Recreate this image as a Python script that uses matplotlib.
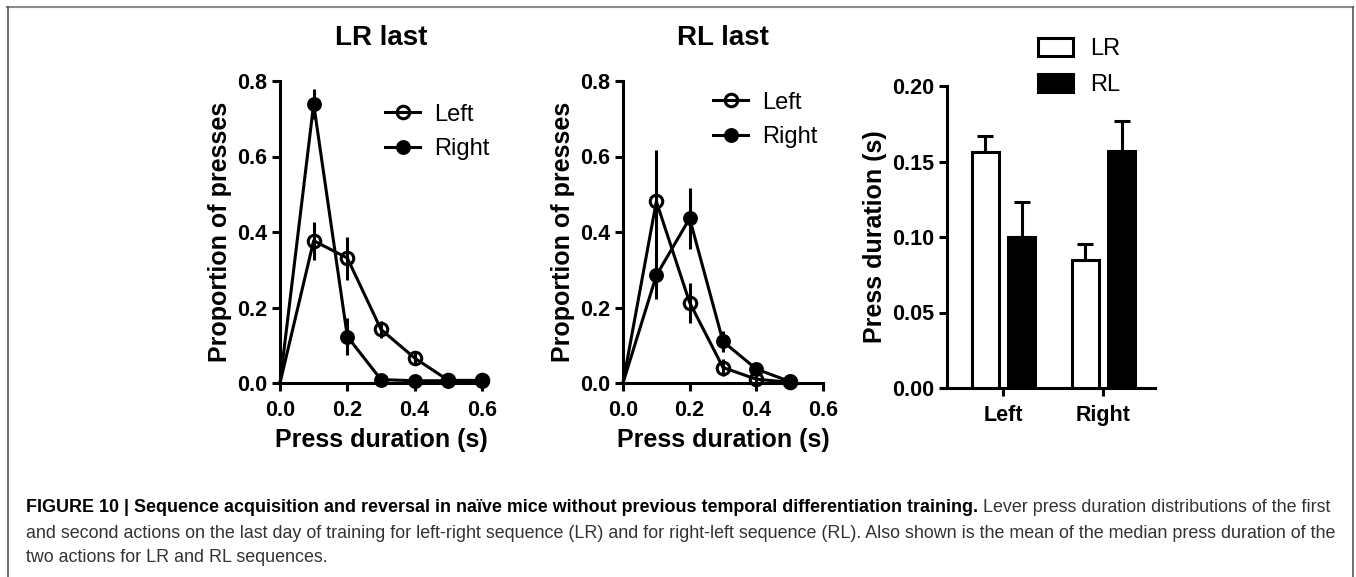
import matplotlib
matplotlib.use("Agg")
import matplotlib.pyplot as plt
from matplotlib import font_manager
from matplotlib.lines import Line2D
from matplotlib.ticker import FormatStrFormatter
import numpy as np

# data
durations = [0.0, 0.1, 0.2, 0.3, 0.4, 0.5, 0.6]

lr_left = [0.0, 0.377, 0.331, 0.142, 0.066, 0.007, 0.007]
lr_left_err = [0.0, 0.05, 0.057, 0.022, 0.018, 0.004, 0.004]
lr_right = [0.0, 0.739, 0.123, 0.009, 0.006, 0.006, 0.006]
lr_right_err = [0.0, 0.039, 0.048, 0.004, 0.003, 0.003, 0.003]

rl_durations = [0.0, 0.1, 0.2, 0.3, 0.4, 0.5]
rl_left = [0.0, 0.481, 0.213, 0.041, 0.01, 0.002]
rl_left_err = [0.0, 0.137, 0.053, 0.022, 0.008, 0.003]
rl_right = [0.0, 0.285, 0.436, 0.11, 0.037, 0.004]
rl_right_err = [0.0, 0.062, 0.081, 0.028, 0.01, 0.003]

bar_groups = ["Left", "Right"]
bar_lr = [0.1566, 0.0845]
bar_lr_err = [0.010, 0.011]
bar_rl = [0.0999, 0.157]
bar_rl_err = [0.023, 0.020]

caption_bold = ("FIGURE 10 | Sequence acquisition and reversal in na\u00efve mice without "
                "previous temporal differentiation training.")
caption_rest1 = " Lever press duration distributions of the first"
caption_line2 = ("and second actions on the last day of training for left-right sequence (LR) "
                 "and for right-left sequence (RL). Also shown is the mean of the median press duration of the")
caption_line3 = "two actions for LR and RL sequences."

plt.rcParams['font.family'] = ['Liberation Sans', 'DejaVu Sans']
plt.rcParams['font.weight'] = 'bold'

LW = 2.2
W, H = 1356, 577
fig = plt.figure(figsize=(W / 100, H / 100), dpi=100)


def axes_px(x0, x1, ytop, ybot):
    return fig.add_axes([x0 / W, 1 - ybot / H, (x1 - x0) / W, (ybot - ytop) / H])


def style(ax):
    for s in ["top", "right"]:
        ax.spines[s].set_visible(False)
    for s in ["left", "bottom"]:
        ax.spines[s].set_linewidth(LW)
    ax.tick_params(width=LW, length=6, labelsize=15.5, pad=3)
    ax.tick_params(axis="x", pad=6)
    for lab in ax.get_xticklabels() + ax.get_yticklabels():
        lab.set_fontweight("bold")


def dist_panel(ax, x, left, left_err, right, right_err, title, leg_anchor):
    ax.errorbar(x[1:], left[1:], yerr=left_err[1:], fmt="none", ecolor="black",
                elinewidth=LW, clip_on=False, zorder=2)
    ax.errorbar(x[1:], right[1:], yerr=right_err[1:], fmt="none", ecolor="black",
                elinewidth=LW, clip_on=False, zorder=2)
    ax.plot(x, left, color="black", lw=LW, marker="o", ms=9, mfc="none", mec="black",
            mew=LW, markevery=slice(1, None), clip_on=False, zorder=3, label="Left")
    ax.plot(x, right, color="black", lw=LW, marker="o", ms=8.5, mfc="black", mec="black",
            mew=LW, markevery=slice(1, None), clip_on=False, zorder=3, label="Right")
    ax.set_xlim(0, 0.6)
    ax.set_ylim(0, 0.8)
    ax.set_xticks([0, 0.2, 0.4, 0.6])
    ax.set_yticks([0, 0.2, 0.4, 0.6, 0.8])
    ax.xaxis.set_major_formatter(FormatStrFormatter("%.1f"))
    ax.yaxis.set_major_formatter(FormatStrFormatter("%.1f"))
    ax.set_xlabel("Press duration (s)", fontsize=18, fontweight="bold", labelpad=5)
    ax.set_ylabel("Proportion of presses", fontsize=18, fontweight="bold", labelpad=4)
    ax.set_title(title, fontsize=20, fontweight="bold", pad=26)
    style(ax)
    leg = ax.legend(loc="upper left", bbox_to_anchor=leg_anchor, frameon=False,
                    prop={"size": 17, "weight": "normal"}, handlelength=1.5,
                    handletextpad=0.6, labelspacing=0.52, borderpad=0, borderaxespad=0,
                    numpoints=1)
    return leg


ax1 = axes_px(280, 482, 81, 383)
dist_panel(ax1, durations, lr_left, lr_left_err, lr_right, lr_right_err, "LR last", (0.52, 0.925))

ax2 = axes_px(623, 823, 81, 383)
dist_panel(ax2, rl_durations, rl_left, rl_left_err, rl_right, rl_right_err, "RL last", (0.45, 0.965))

# bar panel
ax3 = axes_px(947, 1155, 86, 388)
xpos = np.arange(len(bar_groups))
bw = 0.27
ax3.bar(xpos - 0.18, bar_lr, bw, color="white", edgecolor="black", linewidth=LW,
        label="LR", zorder=3)
ax3.bar(xpos + 0.185, bar_rl, bw, color="black", edgecolor="black", linewidth=LW,
        label="RL", zorder=3)
ax3.errorbar(xpos - 0.18, bar_lr, yerr=[np.zeros(2), bar_lr_err], fmt="none", ecolor="black",
             elinewidth=LW, capsize=5.5, capthick=LW, zorder=2)
ax3.errorbar(xpos + 0.185, bar_rl, yerr=[np.zeros(2), bar_rl_err], fmt="none", ecolor="black",
             elinewidth=LW, capsize=5.5, capthick=LW, zorder=2)
ax3.set_xlim(-0.56, 1.52)
ax3.set_ylim(0, 0.2)
ax3.set_xticks(xpos)
ax3.set_xticklabels(bar_groups)
ax3.set_yticks([0, 0.05, 0.10, 0.15, 0.20])
ax3.yaxis.set_major_formatter(FormatStrFormatter("%.2f"))
ax3.set_ylabel("Press duration (s)", fontsize=18, fontweight="bold", labelpad=4)
style(ax3)
ax3.legend(loc="upper left", bbox_to_anchor=(0.4375, 1.16), frameon=False,
           prop={"size": 17, "weight": "normal"}, handlelength=1.5, handleheight=0.8,
           handletextpad=0.7, labelspacing=0.58, borderpad=0, borderaxespad=0)

# frame lines around the figure
fig.add_artist(Line2D([7 / W, 1353 / W], [1 - 7 / H, 1 - 7 / H], color="#8a8a8a", lw=1.5))
fig.add_artist(Line2D([7.5 / W, 7.5 / W], [0, 1 - 7 / H], color="#555555", lw=1.2))
fig.add_artist(Line2D([1352.5 / W, 1352.5 / W], [0, 1 - 7 / H], color="#555555", lw=1.2))

# caption
names = {f.name for f in font_manager.fontManager.ttflist}
cap_font = "Liberation Sans Narrow" if "Liberation Sans Narrow" in names else "Liberation Sans"
renderer = fig.canvas.get_renderer()
probe = fig.text(0, 0, caption_line2, fontsize=10, family=cap_font, fontweight="normal")
probe_w = probe.get_window_extent(renderer).width
probe.remove()
cap_size = 10 * 1316 / probe_w
cap_x = 26 / W
t_bold = fig.text(cap_x, 1 - 508 / H, caption_bold, fontsize=cap_size, family=cap_font,
                  fontweight="bold", color="black", va="center")
bw_px = t_bold.get_window_extent(renderer).width
fig.text(cap_x + bw_px / W, 1 - 508 / H, caption_rest1, fontsize=cap_size, family=cap_font,
         fontweight="normal", color="#333333", va="center")
fig.text(cap_x, 1 - 533 / H, caption_line2, fontsize=cap_size, family=cap_font,
         fontweight="normal", color="#333333", va="center")
fig.text(cap_x, 1 - 557 / H, caption_line3, fontsize=cap_size, family=cap_font,
         fontweight="normal", color="#333333", va="center")

fig.savefig("out.png", dpi=100)
